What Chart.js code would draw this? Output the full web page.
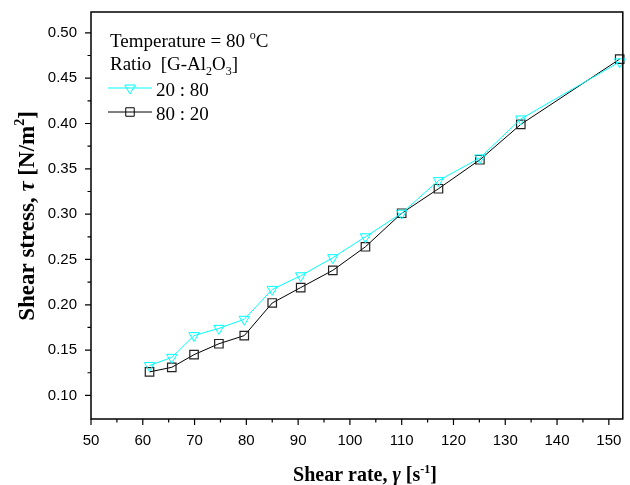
<!DOCTYPE html>
<html>
<head>
<meta charset="utf-8">
<script src="https://cdn.jsdelivr.net/npm/chart.js@4.4.0/dist/chart.umd.min.js"></script>
<style>
body { margin: 0; background: #fff; }
</style>
</head>
<body>
<canvas id="myChart" width="630" height="485"></canvas>
<script>
var xValues = [61.3, 65.6, 69.9, 74.7, 79.6, 85.0, 90.5, 96.7, 103.0, 110.0, 117.1, 125.1, 133.0, 152.1];
var yValues1 = [0.133, 0.142, 0.166, 0.174, 0.184, 0.217, 0.232, 0.252, 0.275, 0.301, 0.337, 0.362, 0.405, 0.468];
var yValues2 = [0.126, 0.131, 0.145, 0.157, 0.166, 0.202, 0.219, 0.238, 0.264, 0.301, 0.328, 0.360, 0.399, 0.471];
var seriesNames = ["20 : 80", "80 : 20"];
var xTicks = [50, 60, 70, 80, 90, 100, 110, 120, 130, 140, 150];
var yTicks = [0.10, 0.15, 0.20, 0.25, 0.30, 0.35, 0.40, 0.45, 0.50];
var xMinor = [55, 65, 75, 85, 95, 105, 115, 125, 135, 145];
var yMinor = [0.125, 0.175, 0.225, 0.275, 0.325, 0.375, 0.425, 0.475];

var serif = "'Liberation Serif', 'Times New Roman', serif";

function pts(xs, ys) {
  return xs.map(function (x, i) { return {x: x, y: ys[i]}; });
}

// draw a line of text made of parts: [text, kind], kind = n, b, bi, sup, sub, bsup
function rich(ctx, parts, x, y, size, center) {
  var small = Math.round(size * 0.62);
  var fonts = {
    n: size + "px " + serif,
    b: "bold " + size + "px " + serif,
    bi: "italic bold " + size + "px " + serif,
    sup: small + "px " + serif,
    sub: small + "px " + serif,
    bsup: "bold " + small + "px " + serif
  };
  var shift = {n: 0, b: 0, bi: 0, sup: -size * 0.42, sub: size * 0.28, bsup: -size * 0.42};
  var total = 0;
  parts.forEach(function (p) { ctx.font = fonts[p[1]]; total += ctx.measureText(p[0]).width; });
  var cx = center ? x - total / 2 : x;
  ctx.textAlign = "left";
  ctx.textBaseline = "alphabetic";
  ctx.fillStyle = "#000";
  parts.forEach(function (p) {
    ctx.font = fonts[p[1]];
    ctx.fillText(p[0], cx, y + shift[p[1]]);
    cx += ctx.measureText(p[0]).width;
  });
}

var decor = {
  id: "decor",
  afterDraw: function (chart) {
    var ctx = chart.ctx;
    var a = chart.chartArea;
    var xs = chart.scales.x, ys = chart.scales.y;
    ctx.save();
    ctx.strokeStyle = "#000";
    ctx.lineWidth = 1.5;
    ctx.strokeRect(a.left, a.top, a.right - a.left, a.bottom - a.top);
    ctx.lineWidth = 1.2;
    ctx.beginPath();
    xTicks.forEach(function (v) { var px = xs.getPixelForValue(v); ctx.moveTo(px, a.bottom); ctx.lineTo(px, a.bottom + 6); });
    xMinor.forEach(function (v) { var px = xs.getPixelForValue(v); ctx.moveTo(px, a.bottom); ctx.lineTo(px, a.bottom + 3.5); });
    yTicks.forEach(function (v) { var py = ys.getPixelForValue(v); ctx.moveTo(a.left, py); ctx.lineTo(a.left - 6, py); });
    yMinor.forEach(function (v) { var py = ys.getPixelForValue(v); ctx.moveTo(a.left, py); ctx.lineTo(a.left - 3.5, py); });
    ctx.stroke();

    // axis titles
    rich(ctx, [["Shear rate, ", "b"], ["\u03B3", "bi"], [" [s", "b"], ["-1", "bsup"], ["]", "b"]], 365, 481, 20, true);
    ctx.save();
    ctx.translate(34, 216);
    ctx.rotate(-Math.PI / 2);
    rich(ctx, [["Shear stress, ", "b"], ["\u03C4", "bi"], [" [N/m", "b"], ["2", "bsup"], ["]", "b"]], 0, 0, 23, true);
    ctx.restore();

    // legend block
    rich(ctx, [["Temperature = 80 ", "n"], ["o", "sup"], ["C", "n"]], 110, 47, 19, false);
    rich(ctx, [["Ratio  [G-Al", "n"], ["2", "sub"], ["O", "n"], ["3", "sub"], ["]", "n"]], 110, 70, 19, false);
    var rows = [88, 112];
    chart.data.datasets.forEach(function (ds, i) {
      var ly = rows[i];
      ctx.strokeStyle = ds.borderColor;
      ctx.lineWidth = ds.borderWidth;
      ctx.beginPath();
      ctx.moveTo(108, ly);
      ctx.lineTo(152, ly);
      ctx.stroke();
      ctx.fillStyle = "rgba(0,0,0,0)";
      Chart.helpers.drawPoint(ctx, {pointStyle: ds.pointStyle, rotation: ds.pointRotation, radius: ds.pointRadius, borderWidth: 1}, 130, ly);
      rich(ctx, [[ds.label, "n"]], 156, ly + 8, 19, false);
    });
    ctx.restore();
  }
};

new Chart("myChart", {
  type: "line",
  data: {
    datasets: [{
      label: seriesNames[0],
      data: pts(xValues, yValues1),
      borderColor: "#00FFFF",
      borderWidth: 1,
      pointStyle: "triangle",
      pointRotation: 180,
      pointRadius: 6,
      pointBorderColor: "#00FFFF",
      pointBackgroundColor: "rgba(0,0,0,0)",
      pointBorderWidth: 1,
      fill: false
    }, {
      label: seriesNames[1],
      data: pts(xValues, yValues2),
      borderColor: "#000000",
      borderWidth: 1,
      pointStyle: "rect",
      pointRadius: 6,
      pointBorderColor: "#222222",
      pointBackgroundColor: "rgba(0,0,0,0)",
      pointBorderWidth: 1.2,
      fill: false
    }]
  },
  options: {
    responsive: false,
    animation: false,
    clip: false,
    layout: {padding: {top: 12, right: 0, left: 0, bottom: 0}},
    plugins: {legend: {display: false}, tooltip: {enabled: false}},
    scales: {
      x: {
        type: "linear",
        min: 50,
        max: 152.7,
        grid: {display: false},
        border: {display: false},
        afterBuildTicks: function (s) { s.ticks = xTicks.map(function (v) { return {value: v}; }); },
        afterFit: function (s) { s.height = 66; s.paddingLeft = 0; s.paddingRight = 0; },
        ticks: {
          padding: 5,
          color: "#000",
          maxRotation: 0,
          font: {family: "'Liberation Sans', Arial, sans-serif", size: 15},
          callback: function (v) { return v; }
        }
      },
      y: {
        type: "linear",
        min: 0.074,
        max: 0.523,
        grid: {display: false},
        border: {display: false},
        afterBuildTicks: function (s) { s.ticks = yTicks.map(function (v) { return {value: v}; }); },
        afterFit: function (s) { s.width = 91; s.paddingTop = 0; s.paddingBottom = 0; },
        ticks: {
          padding: 6,
          color: "#000",
          font: {family: "'Liberation Sans', Arial, sans-serif", size: 15},
          callback: function (v) { return v.toFixed(2); }
        }
      }
    }
  },
  plugins: [decor]
});
</script>
</body>
</html>
